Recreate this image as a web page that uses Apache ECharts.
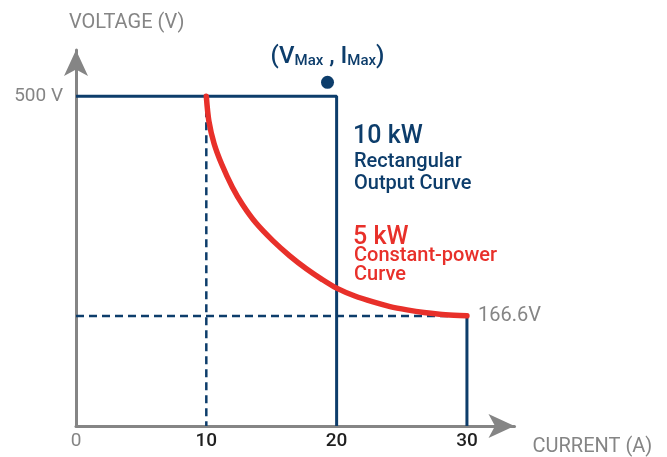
<!DOCTYPE html>
<html>
<head>
<meta charset="utf-8">
<script src="https://cdn.jsdelivr.net/npm/echarts@6/dist/echarts.min.js"></script>
<style>
  html, body { margin: 0; padding: 0; background: #fff; }
  #chart { width: 667px; height: 457px; }
</style>
</head>
<body>
<div id="chart"></div>
<script>
const currentTicks = [0, 10, 20, 30]
const voltageTicks = [500]

// rectangular 10 kW output curve
const rectOutline = [[0, 500], [20, 500], [20, 0]]
// 5 kW constant-power curve
const powerCurve = [
  [10, 500], [10.2, 462], [10.6, 428], [11.2, 396], [12, 362], [12.8, 335],
  [13.8, 308], [15.1, 281], [16.4, 258], [17.7, 238], [18.9, 222], [20, 209],
  [21.4, 197], [22.8, 188], [24.1, 181], [25.4, 176], [26.7, 172], [27.9, 169.5],
  [29, 168], [30, 167]
]
const cutoffLine = [[30, 166.6], [30, 0]]
const guideVertical = [[10, 500], [10, 0]]
const guideHorizontal = [[0, 166.6], [30, 166.6]]
const maxPoint = [[19.3, 521]]

const navy = '#0d3d6b'
const red = '#e8302a'
const grey = '#858585'
const font = 'Roboto, "Noto Sans", sans-serif'

const chart = echarts.init(document.getElementById('chart'))

const option = {
  animation: false,
  grid: { left: 76, top: 50, width: 438.5, height: 378 },
  xAxis: {
    type: 'value',
    min: 0,
    max: 33.65,
    name: 'CURRENT (A)',
    nameLocation: 'end',
    nameGap: 18,
    nameTextStyle: {
      color: grey, fontSize: 20, fontFamily: font,
      verticalAlign: 'top', lineHeight: 20, padding: [11, 0, 0, 0]
    },
    axisLine: {
      lineStyle: { color: grey, width: 3 },
      symbol: ['none', 'arrow'],
      symbolSize: [18, 26]
    },
    axisTick: { show: false },
    splitLine: { show: false },
    axisLabel: {
      customValues: currentTicks,
      margin: 6,
      formatter: (v) => (v === 0 ? '{g|' + v + '}' : '{d|' + v + '}'),
      rich: {
        g: { color: grey, fontSize: 19, fontFamily: font },
        d: { color: '#1f1f1f', fontSize: 19, fontFamily: font, fontWeight: 500 }
      }
    }
  },
  yAxis: {
    type: 'value',
    min: 0,
    max: 570,
    name: 'VOLTAGE (V)',
    nameLocation: 'end',
    nameGap: 17,
    nameTextStyle: {
      color: grey, fontSize: 20, fontFamily: font,
      align: 'left', padding: [0, 0, 0, -7]
    },
    axisLine: {
      lineStyle: { color: grey, width: 3 },
      symbol: ['none', 'arrow'],
      symbolSize: [18, 26]
    },
    axisTick: { show: false },
    splitLine: { show: false },
    axisLabel: {
      customValues: voltageTicks,
      margin: 13,
      formatter: '{value} V',
      color: grey,
      fontSize: 19,
      fontFamily: font
    }
  },
  series: [
    {
      type: 'line',
      data: guideVertical,
      symbol: 'none',
      lineStyle: { color: navy, width: 2.5, type: [8, 5] },
      z: 2
    },
    {
      type: 'line',
      data: guideHorizontal,
      symbol: 'none',
      lineStyle: { color: navy, width: 2.5, type: [8, 5] },
      endLabel: {
        show: true,
        formatter: '166.6V',
        distance: 11,
        color: grey,
        fontSize: 20,
        fontFamily: font
      },
      z: 2
    },
    {
      type: 'line',
      data: rectOutline,
      symbol: 'none',
      lineStyle: { color: navy, width: 3 },
      z: 3
    },
    {
      type: 'line',
      data: cutoffLine,
      symbol: 'none',
      lineStyle: { color: navy, width: 3 },
      z: 3
    },
    {
      type: 'line',
      data: powerCurve,
      symbol: 'none',
      smooth: 0.3,
      lineStyle: { color: red, width: 5.5, cap: 'round', join: 'round' },
      z: 4
    },
    {
      type: 'scatter',
      data: maxPoint,
      symbolSize: 13,
      itemStyle: { color: navy, opacity: 1 },
      label: {
        show: true,
        position: 'top',
        distance: 7,
        formatter: '{p|(V}{s|Max}{p| , I}{s|Max}{p|)}',
        rich: {
          p: { color: navy, fontSize: 24, fontFamily: font, fontWeight: 500, lineHeight: 26, verticalAlign: 'bottom' },
          s: { color: navy, fontSize: 15, fontFamily: font, fontWeight: 500, lineHeight: 18, verticalAlign: 'bottom' }
        }
      },
      z: 5
    }
  ],
  graphic: [
    { type: 'text', left: 353, top: 124, style: { text: '10 kW', fill: navy, font: '500 25px ' + font, verticalAlign: 'middle' } },
    { type: 'text', left: 354, top: 152, style: { text: 'Rectangular', fill: navy, font: '500 20px ' + font, verticalAlign: 'middle' } },
    { type: 'text', left: 354, top: 174, style: { text: 'Output Curve', fill: navy, font: '500 20px ' + font, verticalAlign: 'middle' } },
    { type: 'text', left: 353, top: 225, style: { text: '5 kW', fill: red, font: '500 25px ' + font, verticalAlign: 'middle' } },
    { type: 'text', left: 354, top: 246, style: { text: 'Constant-power', fill: red, font: '500 20px ' + font, verticalAlign: 'middle' } },
    { type: 'text', left: 354, top: 265, style: { text: 'Curve', fill: red, font: '500 20px ' + font, verticalAlign: 'middle' } }
  ]
}

chart.setOption(option)
</script>
</body>
</html>
